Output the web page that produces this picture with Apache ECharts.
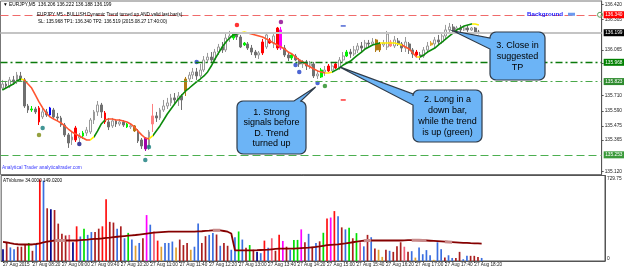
<!DOCTYPE html>
<html>
<head>
<meta charset="utf-8">
<script src="https://cdn.jsdelivr.net/npm/echarts@6.0.0/dist/echarts.min.js"></script>
<style>
html, body { margin: 0; padding: 0; background: #fff; }
#main { width: 625px; height: 270px; }
</style>
</head>
<body>
<div id="main"></div>
<script>
// EURJPY M5, 27 Aug 2015 - one bar every 5 minutes from 07:40
var firstBarMinute = 7 * 60 + 40;
var barCount = 131;
var shiftBars = 33; // empty space right of the last bar

var xTickLabels = ['27 Aug 2015', '27 Aug 08:20', '27 Aug 09:00', '27 Aug 09:40', '27 Aug 10:20',
  '27 Aug 11:00', '27 Aug 11:40', '27 Aug 12:20', '27 Aug 13:00', '27 Aug 13:40', '27 Aug 14:20',
  '27 Aug 15:00', '27 Aug 15:40', '27 Aug 16:20', '27 Aug 17:00', '27 Aug 17:40', '27 Aug 18:20'];
var priceTicks = [135.120, 135.365, 135.475, 135.590, 135.710, 135.960, 136.065, 136.305, 136.420];
var volumeTicks = [0, 729.75];

// [open, close, low, high]
var candles = [
  [135.770,135.801,135.755,135.833],[135.801,135.786,135.763,135.825],[135.786,135.833,135.770,135.856],
  [135.833,135.817,135.794,135.864],[135.817,135.871,135.801,135.895],[135.864,135.833,135.817,135.895],
  [135.833,135.630,135.615,135.848],[135.630,135.599,135.576,135.646],[135.599,135.607,135.584,135.630],
  [135.607,135.584,135.568,135.623],[135.615,135.506,135.482,135.630],[135.545,135.584,135.529,135.615],
  [135.584,135.560,135.545,135.607],[135.560,135.615,135.553,135.623],[135.599,135.545,135.529,135.615],
  [135.545,135.537,135.514,135.576],[135.537,135.482,135.467,135.553],[135.482,135.405,135.389,135.498],
  [135.405,135.342,135.304,135.420],[135.366,135.389,135.327,135.428],[135.459,135.366,135.350,135.475],
  [135.381,135.397,135.350,135.420],[135.397,135.420,135.374,135.436],[135.420,135.443,135.397,135.467],
  [135.428,135.521,135.412,135.537],[135.521,135.584,135.490,135.599],[135.584,135.638,135.553,135.669],
  [135.638,135.584,135.537,135.654],[135.576,135.506,135.490,135.591],[135.506,135.467,135.443,135.537],
  [135.475,135.514,135.459,135.537],[135.514,135.490,135.467,135.529],[135.490,135.506,135.475,135.529],
  [135.506,135.482,135.467,135.521],[135.490,135.467,135.459,135.498],[135.467,135.475,135.451,135.490],
  [135.475,135.436,135.428,135.482],[135.436,135.358,135.342,135.451],[135.366,135.319,135.296,135.381],
  [135.381,135.296,135.280,135.389],[135.311,135.428,135.288,135.443],[135.490,135.553,135.428,135.646],
  [135.553,135.537,135.506,135.584],[135.537,135.599,135.521,135.615],[135.599,135.630,135.584,135.677],
  [135.630,135.654,135.607,135.693],[135.654,135.693,135.630,135.724],[135.693,135.677,135.646,135.731],
  [135.677,135.708,135.630,135.739],[135.708,135.677,135.599,135.724],[135.747,135.840,135.708,135.856],
  [135.840,135.871,135.817,135.895],[135.871,135.895,135.840,135.926],[135.895,135.864,135.833,135.926],
  [135.864,135.910,135.848,135.957],[135.910,135.988,135.895,136.019],[135.988,136.011,135.965,136.043],
  [136.011,135.988,135.973,136.050],[135.988,136.050,135.973,136.074],[136.050,136.089,136.027,136.113],
  [136.089,136.066,136.043,136.128],[136.066,136.159,136.050,136.198],[136.159,136.175,136.128,136.214],
  [136.159,136.190,136.144,136.206],[136.183,136.167,136.144,136.198],[136.167,136.089,136.081,136.183],
  [136.105,136.120,136.097,136.128],[136.113,136.081,136.066,136.128],[136.081,136.050,136.027,136.105],
  [136.050,136.027,136.004,136.066],[136.027,136.043,135.996,136.058],[136.128,136.043,136.027,136.152],
  [136.089,136.183,136.074,136.206],[136.144,136.120,136.113,136.159],[136.120,136.175,136.081,136.190],
  [136.237,136.081,136.066,136.245],[136.222,136.081,136.066,136.245],[136.081,136.027,136.011,136.105],
  [136.027,136.004,135.980,136.050],[136.004,136.027,135.988,136.043],[136.019,135.988,135.980,136.035],
  [135.988,135.957,135.934,136.004],[135.957,135.973,135.926,135.988],[135.973,135.941,135.910,135.988],
  [135.941,135.957,135.918,135.980],[135.957,135.864,135.848,135.973],[135.864,135.879,135.840,135.910],
  [135.856,135.910,135.848,135.926],[135.895,135.910,135.864,135.941],[135.941,135.903,135.895,135.957],
  [135.910,135.941,135.903,135.973],[135.957,135.926,135.918,135.973],[135.926,135.988,135.910,136.011],
  [135.988,136.019,135.973,136.050],[136.019,136.050,136.011,136.066],[136.050,136.035,136.004,136.074],
  [136.035,136.066,136.019,136.097],[136.066,136.097,136.043,136.120],[136.097,136.081,136.050,136.128],
  [136.081,136.120,136.074,136.144],[136.120,136.113,136.089,136.144],[136.113,136.128,136.097,136.159],
  [136.144,136.066,136.050,136.152],[136.066,136.113,136.050,136.128],[136.105,136.120,136.089,136.144],
  [136.089,136.190,136.066,136.214],[136.128,136.097,136.089,136.144],[136.097,136.144,136.081,136.175],
  [136.136,136.113,136.097,136.159],[136.113,136.081,136.050,136.128],[136.081,136.128,136.050,136.167],
  [136.113,136.066,136.035,136.128],[136.066,136.035,136.004,136.081],[136.050,136.027,136.019,136.066],
  [136.027,136.019,135.988,136.050],[136.019,136.066,136.004,136.089],[136.066,136.097,136.050,136.128],
  [136.105,136.120,136.097,136.136],[136.113,136.144,136.081,136.167],[136.144,136.128,136.105,136.183],
  [136.128,136.175,136.113,136.198],[136.175,136.222,136.152,136.261],[136.222,136.245,136.190,136.276],
  [136.245,136.214,136.198,136.268],[136.222,136.237,136.198,136.253],[136.237,136.222,136.206,136.261],
  [136.222,136.237,136.214,136.253],[136.237,136.222,136.206,136.253],[136.222,136.237,136.214,136.245],
  [136.237,136.206,136.190,136.245],[136.206,136.199,136.188,136.222]
];

// bars painted by the signal indicator
var candleSignals = {8:'lime', 10:'red', 13:'blue', 20:'red', 22:'lime', 28:'red', 34:'lime', 36:'brown',
  39:'violet', 41:'pink', 50:'brown', 63:'lime', 66:'lime', 71:'red', 73:'red', 75:'red', 76:'magenta',
  79:'lime', 87:'lime', 89:'red', 91:'red', 94:'lime', 102:'brown', 103:'brown', 106:'pink', 113:'red', 117:'gold'};

// Dynamic Trend line
var trend = [
  135.755,135.770,135.786,135.801,135.825,135.840,135.833,135.801,135.770,135.716,
  135.662,135.615,135.576,135.545,135.529,135.514,135.498,135.475,135.451,135.428,
  135.412,135.397,135.381,135.366,135.366,135.389,135.436,135.490,135.521,135.529,
  135.529,135.521,135.521,135.514,135.506,135.490,135.467,135.436,135.405,135.381,
  135.374,135.397,135.436,135.475,135.521,135.568,135.607,135.646,135.685,135.716,
  135.747,135.770,135.794,135.817,135.840,135.864,135.895,135.941,135.996,136.043,
  136.089,136.128,136.159,136.183,136.190,136.198,136.206,136.198,136.190,136.183,
  136.175,136.167,136.152,136.136,136.120,136.105,136.089,136.074,136.050,136.035,
  136.011,135.988,135.973,135.949,135.934,135.918,135.903,135.895,135.887,135.887,
  135.895,135.910,135.926,135.949,135.965,135.980,136.004,136.027,136.050,136.074,
  136.089,136.105,136.113,136.120,136.120,136.120,136.120,136.120,136.113,136.105,
  136.089,136.074,136.043,136.011,136.011,136.027,136.050,136.066,136.081,136.105,
  136.128,136.152,136.175,136.198,136.222,136.237,136.253,136.261,136.268,136.268,
  136.261
];
// [first bar, last bar, state]
var trendStates = [[0,4,'up'],[5,5,'flat'],[6,23,'down'],[24,24,'flat'],[25,27,'up'],[28,39,'down'],
  [40,40,'flat'],[41,64,'up'],[65,66,'flat'],[67,87,'down'],[88,89,'flat'],[90,102,'up'],
  [103,108,'flat'],[109,112,'down'],[113,113,'flat'],[114,127,'up'],[128,129,'flat'],[130,130,'down']];

// [bar, price, kind]
var signalDots = [[10,135.405,'olive'],[11,135.459,'teal'],[21,135.335,'navy'],[39,135.210,'teal'],
  [40,135.311,'teal'],[53,135.973,'blue'],[64,136.261,'red'],[76,136.284,'purple'],[80,135.949,'blue'],
  [81,135.895,'blue'],[86,135.809,'blue'],[88,135.786,'green']];
var dashMarks = [[93,135.677,'red'],[93,136.253,'blue']];

// horizontal levels [price, kind]
var levels = [[136.340,'tp'],[136.199,'bid'],[135.968,'sl'],[135.823,'entry'],[135.253,'low']];

// ATVolume
var volumes = [
  101,154,116,101,122,122,136,154,87,145,
  696,687,450,441,435,319,232,218,223,160,
  296,209,276,223,247,247,276,296,528,334,
  328,276,296,194,240,183,131,154,194,392,
  310,252,174,122,154,154,166,116,183,136,
  154,96,122,319,154,212,223,238,226,130,
  154,130,96,203,252,183,113,136,96,78,
  67,174,113,194,87,223,171,122,96,180,
  180,270,160,232,122,154,168,241,363,371,
  426,383,287,270,284,194,238,160,125,223,
  203,107,96,35,96,87,78,125,160,122,
  78,84,29,116,58,93,49,10,160,101,
  30,49,26,26,78,15,44,44,44,35,
  26
];
var volumeKinds = 'ndbbdddgdb' + 'rbdnddddsn' + 'rbgbbddrrd' + 'dbdbgbobdm' + 'bsrobbbodd' +
  'dobbddbbdb' + 'ddbbgbdgdn' + 'brbsdrmdbg' + 'gmdbdbdgrm' + 'rbdbgdgsbd' + 'bdoodbddds' +
  'dbobbbbobb' + 'dbbddbbddd' + 'b';
var volumeAvg = [
  163,158,152,147,143,141,141,141,141,145,
  150,158,165,170,175,175,175,175,175,175,
  175,178,181,183,186,188,190,193,197,200,
  204,207,210,213,216,219,222,226,230,234,
  238,242,245,247,249,250,250,250,250,250,
  250,250,250,252,254,257,259,262,262,262,
  256,250,235,91,91,91,91,91,91,92,
  94,95,97,100,103,106,106,106,106,106,
  108,110,112,114,117,120,124,130,135,138,
  140,142,146,150,155,160,165,169,173,175,
  175,175,175,175,175,175,175,175,175,176,
  178,178,178,177,176,175,173,171,169,167,
  165,163,161,159,157,155,154,152,151,150,
  149
];
var avgHighlights = [[14,17],[57,59],[98,100],[111,115],[120,122]];

var FONT = 'Liberation Sans';
var signalColor = {lime:'#00f000', red:'#ff0000', blue:'#0000ff', brown:'#b07a12', violet:'#a000a8',
  pink:'#ff8080', magenta:'#ff00ff', gold:'#e0a830'};
var trendColor = {up:'#0b8a0b', down:'#ff5530', flat:'#ffee00'};
var dotColor = {olive:'#7a8a10', teal:'#137a7a', navy:'#101080', blue:'#2040c8', red:'#ff0000',
  purple:'#8b008b', green:'#1f8b1f'};
var volColor = {n:'#000088', d:'#aa1e1e', b:'#3b6fe0', r:'#ff1010', g:'#00e000', m:'#ff00ff',
  o:'#e0a030', s:'#f0607a'};
var levelStyle = {
  tp:    {line:{color:'#f06a6a', type:[8,4], width:1},       bg:'#ff0000'},
  bid:   {line:{color:'#c4c4c4', type:'solid', width:2},     bg:'#000000'},
  sl:    {line:{color:'#0b7a0b', type:[7,3,2,3], width:1.3}, bg:'#008000'},
  entry: {line:{color:'#4aa84a', type:[7,3,2,3], width:1},   bg:'#2e8b2e'},
  low:   {line:{color:'#4caf50', type:[8,4], width:1.2},     bg:'#3a9a3a'}
};

var categories = [];
for (var i = 0; i < barCount + shiftBars; i++) {
  if (i < barCount) {
    var m = firstBarMinute + i * 5;
    categories.push(('0' + Math.floor(m / 60)).slice(-2) + ':' + ('0' + m % 60).slice(-2));
  } else {
    categories.push('x' + i);
  }
}

var candleData = candles.map(function (c, i) {
  var s = candleSignals[i];
  if (!s) return c;
  var col = signalColor[s];
  return {value: c, itemStyle: {color: col, color0: col, borderColor: col, borderColor0: col}};
});

var trendPieces = trendStates.map(function (t) {
  return {gte: t[0] - 0.5, lt: t[1] + 0.5, color: trendColor[t[2]]};
});

var volumeData = volumes.map(function (v, i) {
  return {value: v, itemStyle: {color: volColor[volumeKinds[i]]}};
});

var avgMarked = volumeAvg.map(function (v, i) {
  for (var k = 0; k < avgHighlights.length; k++) {
    if (i >= avgHighlights[k][0] && i <= avgHighlights[k][1]) return v;
  }
  return null;
});

var levelLines = levels.map(function (l) {
  var st = levelStyle[l[1]];
  return {
    yAxis: l[0],
    lineStyle: st.line,
    label: {
      show: true, position: 'end', distance: 2,
      formatter: l[0].toFixed(3),
      color: '#fff', backgroundColor: st.bg,
      fontFamily: FONT, fontSize: 4.8, padding: [1, 1.5]
    }
  };
});

var chart = echarts.init(document.getElementById('main'));

var option = {
  animation: false,
  backgroundColor: '#fff',
  grid: [
    {left: 0.5, top: 1, width: 604.5, height: 173.5, show: true, borderColor: '#777', borderWidth: 1},
    {left: 0.5, top: 175.5, width: 604.5, height: 85.5, show: true, borderColor: '#555', borderWidth: 1}
  ],
  xAxis: [
    {type: 'category', gridIndex: 0, data: categories, boundaryGap: true,
      axisLine: {show: false}, axisTick: {show: false}, axisLabel: {show: false}, splitLine: {show: false}},
    {type: 'category', gridIndex: 1, data: categories, boundaryGap: true,
      axisLine: {show: true, lineStyle: {color: '#555', width: 1}},
      axisTick: {show: true, alignWithLabel: true, length: 2, lineStyle: {color: '#555'},
        interval: function (idx) { return idx % 8 === 0 && idx / 8 < xTickLabels.length; }},
      axisLabel: {show: true, align: 'left', margin: 1.5, fontFamily: FONT, fontSize: 4.7, color: '#222',
        interval: function (idx) { return idx % 8 === 0 && idx / 8 < xTickLabels.length; },
        formatter: function (v, idx) { return xTickLabels[idx / 8] || ''; }},
      splitLine: {show: false}}
  ],
  yAxis: [
    {type: 'value', gridIndex: 0, position: 'right', min: 135.097, max: 136.447,
      splitLine: {show: false},
      axisLine: {show: true, lineStyle: {color: '#555'}},
      axisTick: {show: true, length: 2, customValues: priceTicks, lineStyle: {color: '#555'}},
      axisLabel: {show: true, customValues: priceTicks, margin: 3, fontFamily: FONT, fontSize: 4.8, color: '#222',
        formatter: function (v) { return v.toFixed(3); }}},
    {type: 'value', gridIndex: 1, position: 'right', min: 0, max: 729.75,
      splitLine: {show: false},
      axisLine: {show: true, lineStyle: {color: '#555'}},
      axisTick: {show: false},
      axisLabel: {show: true, customValues: volumeTicks, margin: 2, fontFamily: FONT, fontSize: 4.8, color: '#222',
        formatter: function (v) { return v === 0 ? '{bot|0}' : '{top|729.75}'; },
        rich: {top: {padding: [7, 0, 0, 0], fontSize: 4.8, fontFamily: FONT}, bot: {padding: [0, 0, 5, 0], fontSize: 4.8, fontFamily: FONT}}}}
  ],
  visualMap: [{type: 'piecewise', show: false, seriesIndex: 1, dimension: 0, pieces: trendPieces}],
  series: [
    {name: 'EURJPY', type: 'candlestick', xAxisIndex: 0, yAxisIndex: 0, data: candleData, barWidth: 2.4,
      itemStyle: {color: '#ffffff', borderColor: '#9a9a9a', color0: '#707070', borderColor0: '#707070', borderWidth: 1},
      markLine: {silent: true, symbol: ['none', 'none'], animation: false, data: levelLines}},
    {name: 'Dynamic Trend', type: 'line', xAxisIndex: 0, yAxisIndex: 0, showSymbol: false, symbol: 'none',
      data: trend.map(function (v, i) { return [i, v]; }), lineStyle: {width: 1.6}, z: 3},
    {name: 'Signals', type: 'scatter', xAxisIndex: 0, yAxisIndex: 0, symbolSize: 4.5, z: 4,
      data: signalDots.map(function (d) { return {value: [d[0], d[1]], itemStyle: {color: dotColor[d[2]]}}; })},
    {name: 'Marks', type: 'scatter', xAxisIndex: 0, yAxisIndex: 0, symbol: 'rect', symbolSize: [5, 1.5], z: 4,
      data: dashMarks.map(function (d) { return {value: [d[0], d[1]], itemStyle: {color: dotColor[d[2]]}}; })},
    {name: 'ATVolume', type: 'bar', xAxisIndex: 1, yAxisIndex: 1, data: volumeData, barWidth: 1.7},
    {name: 'ATVolume avg', type: 'line', xAxisIndex: 1, yAxisIndex: 1, data: volumeAvg, showSymbol: false,
      symbol: 'none', lineStyle: {color: '#850000', width: 1.8}, z: 3},
    {name: 'ATVolume mark', type: 'line', xAxisIndex: 1, yAxisIndex: 1, data: avgMarked, showSymbol: false,
      symbol: 'none', connectNulls: false, lineStyle: {color: '#c98b8b', width: 3}, z: 4}
  ]
};
chart.setOption(option);

// callouts: boxes in pixels, tips anchored to data points
function px(bar, price) { return chart.convertToPixel({gridIndex: 0}, [bar, price]); }

function corner(pts, cx, cy, r, a0, a1) {
  for (var k = 0; k <= 5; k++) {
    var a = (a0 + (a1 - a0) * k / 5) * Math.PI / 180;
    pts.push([cx + r * Math.cos(a), cy + r * Math.sin(a)]);
  }
}
// rounded box outline, clockwise, with a pointer on the top or the left edge
function calloutPoints(b, side, a1, a2, tip) {
  var r = 6, p = [];
  corner(p, b.x + r, b.y + r, r, 180, 270);
  if (side === 'top') { p.push([a1, b.y], tip, [a2, b.y]); }
  corner(p, b.x + b.w - r, b.y + r, r, 270, 360);
  corner(p, b.x + b.w - r, b.y + b.h - r, r, 0, 90);
  corner(p, b.x + r, b.y + b.h - r, r, 90, 180);
  if (side === 'left') { p.push([b.x, a2], tip, [b.x, a1]); }
  return p;
}

var tip1 = px(86, 135.809); tip1 = [tip1[0] - 2, tip1[1] + 4];
var tip2 = px(92, 135.934);
var tip3 = px(123, 136.214);
var box1 = {x: 237, y: 101, w: 69, h: 53};
var box2 = {x: 413, y: 90, w: 69, h: 52};
var box3 = {x: 490, y: 32, w: 55, h: 48};
var tpPx = px(160, 136.340);

var calloutStyle = {fill: '#6cb4f6', stroke: '#2e3a48', lineWidth: 1.2};
function calloutShape(points) {
  return {type: 'polygon', z: 100, shape: {points: points}, style: calloutStyle};
}
function calloutText(x, y, text, lh) {
  return {type: 'text', x: x, y: y, z: 101,
    style: {text: text, align: 'center', verticalAlign: 'middle', fill: '#000',
      font: '9px "' + FONT + '"', lineHeight: lh}};
}
function smallText(x, y, text, color, size, weight) {
  return {type: 'text', x: x, y: y, z: 101,
    style: {text: text, verticalAlign: 'middle', fill: color,
      font: (weight || 'normal') + ' ' + size + 'px "' + FONT + '"'}};
}

chart.setOption({
  graphic: [
    smallText(3, 5, '\u25BC EURJPY,M5  136.206 136.222 136.188 136.199', '#000', 4.8),
    smallText(37, 15, 'EURJPY M5 - BULLISH Dynamic Trend turned up AND valid last bar(s).', '#000', 4.6),
    smallText(38, 22, 'SL: 135.968 TP1: 136.340 TP2: 136.519 (2015.08.27 17:40:00)', '#000', 4.6),
    smallText(2, 168, 'Analytical Trader analyticaltrader.com', '#3a3aff', 4.8),
    smallText(3, 181, 'ATVolume 34.0000 149.0200', '#000', 4.6),
    smallText(527, tpPx[1], 'Background', '#1a1aff', 6.2, 'bold'),
    {type: 'rect', z: 101, shape: {x: 568, y: tpPx[1] - 2, width: 7, height: 3}, style: {fill: '#6a9af0'}},
    {type: 'circle', z: 101, shape: {cx: 600, cy: tpPx[1], r: 2.5}, style: {fill: 'none', stroke: '#5aa05a', lineWidth: 1}},
    calloutShape(calloutPoints(box1, 'top', 294, 301, tip1)),
    calloutText(box1.x + box1.w / 2, box1.y + 27, '1. Strong\nsignals before\nD. Trend\nturned up', 10.5),
    calloutShape(calloutPoints(box2, 'left', 94, 105, tip2)),
    calloutText(box2.x + box2.w / 2, box2.y + 26, '2. Long in a\ndown bar,\nwhile the trend\nis up (green)', 11),
    calloutShape(calloutPoints(box3, 'left', 38, 49, tip3)),
    calloutText(box3.x + box3.w / 2, box3.y + 25, '3. Close in\nsuggested\nTP', 11)
  ]
});

window.addEventListener('resize', function () {
  chart.resize();
});
</script>
</body>
</html>
